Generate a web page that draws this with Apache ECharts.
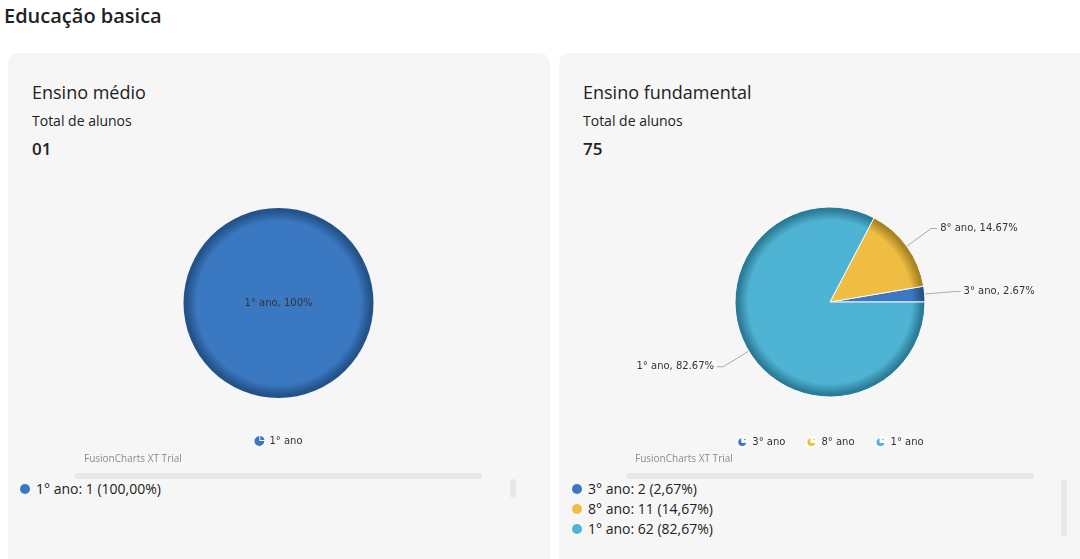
<!DOCTYPE html>
<html>
<head>
<meta charset="utf-8">
<script src="https://cdn.jsdelivr.net/npm/echarts@6/dist/echarts.min.js"></script>
<style>
  html, body { margin:0; padding:0; background:#ffffff; width:1080px; height:559px; overflow:hidden; font-family:"Open Sans", sans-serif; color:#222; }
  .page-title { position:absolute; left:4px; top:2px; font-size:20px; font-weight:600; color:#222; }
  .card { position:absolute; top:53px; background:#f6f6f6; border-radius:10px; height:560px; }
  .card-title { position:absolute; left:24px; top:27px; font-size:18px; color:#222; }
  .card-sub { position:absolute; left:24px; top:58px; font-size:14px; color:#222; }
  .card-total { position:absolute; left:24px; top:84px; font-size:17px; font-weight:600; color:#222; }
  .chart { position:absolute; top:168px; height:300px; }
  .hbar { position:absolute; top:473px; height:6px; background:#e8e8e8; border-radius:3px; }
  .vbar { position:absolute; top:479px; width:6px; background:#e8e8e8; border-radius:3px; }
  .list { position:absolute; top:479px; font-size:14px; color:#222; line-height:20px; }
  .list .row { white-space:nowrap; }
  .list .dot { display:inline-block; width:10px; height:10px; border-radius:50%; margin-right:6px; vertical-align:0px; }
</style>
</head>
<body>
<div class="page-title">Educação basica</div>

<div class="card" style="left:8px; width:542px;">
  <div class="card-title">Ensino médio</div>
  <div class="card-sub">Total de alunos</div>
  <div class="card-total" id="totalMedio"></div>
</div>
<div class="card" style="left:559px; width:560px;">
  <div class="card-title">Ensino fundamental</div>
  <div class="card-sub">Total de alunos</div>
  <div class="card-total" id="totalFund"></div>
</div>

<div class="chart" id="chartMedio" style="left:75px; width:407px;"></div>
<div class="chart" id="chartFund" style="left:626px; width:408px;"></div>

<div class="hbar" style="left:75px; width:407px;"></div>
<div class="hbar" style="left:626px; width:408px;"></div>
<div class="vbar" style="left:510px; height:19px;"></div>
<div class="vbar" style="left:1061px; height:58px;"></div>

<div class="list" id="listMedio" style="left:20px;"></div>
<div class="list" id="listFund" style="left:572px;"></div>

<script>
// ---- data ----
const medioCategories = ['1° ano'];
const medioValues = [1];
const fundCategories = ['3° ano', '8° ano', '1° ano'];
const fundValues = [2, 11, 62];

// ---- styles ----
const medioColors = [{ base:'#3b78c2', dark:'#24538a' }];
const fundColors = [
  { base:'#3b78c2', dark:'#24538a' },
  { base:'#efbd43', dark:'#a98424' },
  { base:'#4fb3d4', dark:'#2c7c97' }
];

function pad2(n){ return String(n).padStart(2,'0'); }
function sum(a){ return a.reduce((s,v)=>s+v,0); }

document.getElementById('totalMedio').textContent = pad2(sum(medioValues));
document.getElementById('totalFund').textContent = pad2(sum(fundValues));

function buildList(id, cats, vals, colors){
  const total = sum(vals);
  const el = document.getElementById(id);
  cats.forEach((c,i)=>{
    const row = document.createElement('div');
    row.className = 'row';
    const dot = document.createElement('span');
    dot.className = 'dot';
    dot.style.background = colors[i].base;
    row.appendChild(dot);
    const pct = (vals[i]/total*100).toFixed(2).replace('.', ',');
    row.appendChild(document.createTextNode(c + ': ' + vals[i] + ' (' + pct + '%)'));
    el.appendChild(row);
  });
}
buildList('listMedio', medioCategories, medioValues, medioColors);
buildList('listFund', fundCategories, fundValues, fundColors);

const pieIcon = 'path://M5,5 L5,0 A5,5 0 1,0 10,5 Z M6,-0.2 L6,4 L10.2,4 A5,5 0 0,0 6,-0.2 Z';

function makeOption(cats, vals, colors, cx, cy, r, single){
  const total = sum(vals);
  const fmt = p => {
    const pct = p.value/total*100;
    const s = Number.isInteger(pct) ? String(pct) : pct.toFixed(2);
    return p.name + ', ' + s + '%';
  };
  const data = cats.map((c,i)=>({
    name: c,
    value: vals[i],
    itemStyle: {
      color: {
        type:'radial', x:cx, y:cy, r:r, global:true,
        colorStops:[
          {offset:0, color:colors[i].base},
          {offset:0.86, color:colors[i].base},
          {offset:0.97, color:colors[i].dark},
          {offset:1, color:colors[i].dark}
        ]
      }
    }
  }));
  return {
    animation:false,
    textStyle:{ fontFamily:'DejaVu Sans' },
    legend:{
      data: cats.map((c,i)=>({ name:c, itemStyle:{ color:colors[i].base } })),
      left:'center', top:263,
      icon: pieIcon,
      itemWidth:10, itemHeight:10, itemGap:20,
      selectedMode:false,
      textStyle:{ fontFamily:'DejaVu Sans', fontSize:10, color:'#333' }
    },
    graphic:[{
      type:'text', left:9, top:286,
      style:{ text:'FusionCharts XT Trial', font:'10px "Open Sans"', fill:'#8c8c8c' }
    }],
    series:[{
      type:'pie',
      center:[cx, cy],
      radius:r,
      startAngle:0,
      clockwise:false,
      avoidLabelOverlap:false,
      data:data,
      itemStyle:{ borderColor:'rgba(255,255,255,0.9)', borderWidth: single ? 0 : 1 },
      label: single ? {
        show:true, position:'center', formatter:fmt,
        fontFamily:'DejaVu Sans', fontSize:10, color:'#333', padding:[2,0,0,0]
      } : {
        show:true, position:'outside', formatter:fmt,
        fontFamily:'DejaVu Sans', fontSize:10, color:'#333', distanceToLabelLine:3
      },
      labelLine:{ show:!single, length:30, length2:6, lineStyle:{ color:'#aaaaaa', width:1 } },
      emphasis:{ disabled:true }
    }]
  };
}

const c1 = echarts.init(document.getElementById('chartMedio'), null, { renderer:'canvas' });
c1.setOption(makeOption(medioCategories, medioValues, medioColors, 203.5, 135, 95, true));
const c2 = echarts.init(document.getElementById('chartFund'), null, { renderer:'canvas' });
c2.setOption(makeOption(fundCategories, fundValues, fundColors, 204, 134, 95, false));
</script>
</body>
</html>
